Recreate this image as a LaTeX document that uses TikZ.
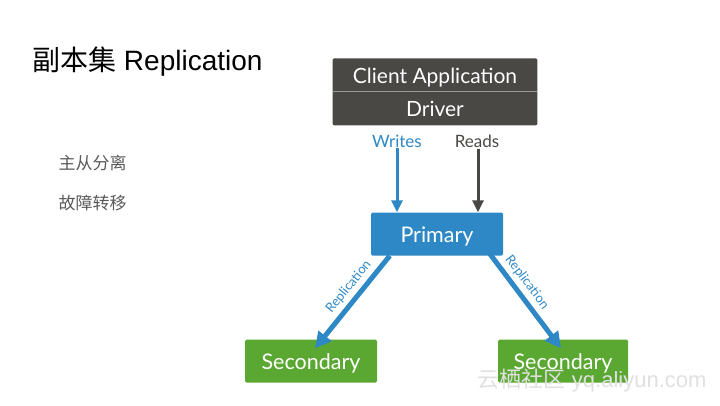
\documentclass[tikz,border=0pt]{standalone}
\usepackage{fontspec}
\setmainfont{Liberation Sans}
\newfontfamily\cjk{Noto Sans CJK SC}
\newfontfamily\gill{Lato}
\usetikzlibrary{arrows.meta,positioning}

\definecolor{boxgray}{HTML}{4A4845}
\definecolor{mongoblue}{HTML}{2E88C5}
\definecolor{mongogreen}{HTML}{5AA832}

\tikzset{
  darkbox/.style={fill=boxgray, text=white, minimum width=204pt, minimum height=33pt,
    inner sep=0pt, text height=16pt, text depth=0pt, font=\gill\fontsize{21}{21}\selectfont},
  rolebox/.style={rounded corners=1.5pt, text=white, minimum width=132pt, minimum height=43pt,
    inner sep=0pt, text height=17pt, text depth=0pt, font=\gill\fontsize{21.5}{21.5}\selectfont},
  flowlabel/.style={font=\gill\fontsize{17}{17}\selectfont, inner sep=1pt},
  readarrow/.style={line width=3pt, -{Triangle[length=12pt,width=11pt]}},
  reparrow/.style={line width=5pt, mongoblue, -{Triangle[length=16pt,width=16pt]}},
  replabel/.style={font=\gill\fontsize{13}{13}\selectfont, text=mongoblue, inner sep=4pt},
  bullet/.style={anchor=west, text=black!65, font=\cjk\fontsize{17}{17}\selectfont}
}

\begin{document}
\begin{tikzpicture}[x=1pt, y=-1pt]
    \useasboundingbox (0,0) rectangle (720,405);
    % title and notes
    \node[anchor=west, inner sep=0pt] (title) at (32,62)
      {\fontsize{28}{28}\selectfont{\cjk 副本集} Replication};
    \node[bullet] (note1) at (55,163) {主从分离};
    \node[bullet] (note2) at (55,203) {故障转移};
    % client
    \node[darkbox] (client) at (435,75) {Client Application};
    \node[darkbox, below=0pt of client] (driver) {Driver};
    \draw[boxgray, rounded corners=1.5pt] (client.north west) rectangle (driver.south east);
    \draw[black!40, line width=1pt] (client.south west) -- (client.south east);
    % primary and secondaries
    \node[rolebox, fill=mongoblue] (primary) at (437,234) {Primary};
    \node[rolebox, fill=mongogreen] (secL) at (311,361) {Secondary};
    \node[rolebox, fill=mongogreen, minimum width=130pt] (secR) at (563,361) {Secondary};
    % writes and reads
    \node[flowlabel, text=mongoblue] (writes) at (397,141) {Writes};
    \node[flowlabel, text=boxgray] (reads) at (477,141) {Reads};
    \draw[readarrow, mongoblue] (writes.south) -- (writes.south |- primary.north);
    \draw[readarrow, boxgray] ([xshift=1]reads.south) -- ([xshift=1]reads.south |- primary.north);
    % replication
    \draw[reparrow] ([xshift=19]primary.south west) -- ([xshift=4,yshift=-9]secL.north)
      node[replabel, pos=0.42, sloped, above] {Replication};
    \draw[reparrow] ([xshift=-18,yshift=8]primary.south east) -- ([xshift=-2,yshift=-9]secR.north)
      node[replabel, pos=0.42, sloped, above] {Replication};
    % watermark
    \node[anchor=east, text=black!12, font=\fontsize{22}{22}\selectfont] (mark) at (710,381)
      {{\cjk 云栖社区} yq.aliyun.com};
\end{tikzpicture}
\end{document}
